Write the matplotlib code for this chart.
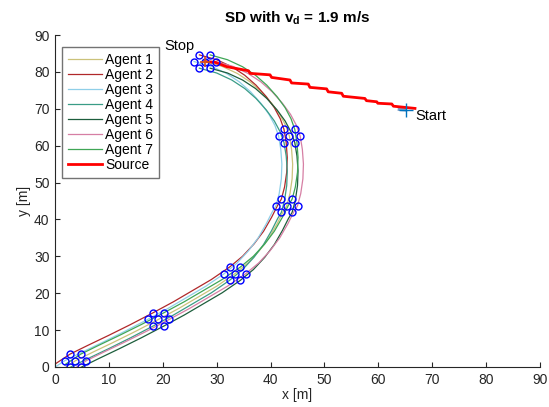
import numpy as np
import matplotlib
matplotlib.use('Agg')
import matplotlib.pyplot as plt

plt.rcParams['font.family'] = ['Liberation Sans', 'DejaVu Sans']
plt.rcParams['mathtext.fontset'] = 'custom'
plt.rcParams['mathtext.rm'] = 'Liberation Sans'
plt.rcParams['mathtext.bf'] = 'Liberation Sans:bold'

# formation centre track
center_x = [0.8, 3.8, 7.0, 11.0, 15.0, 19.2, 23.0, 26.5, 30.0, 33.4, 35.8, 37.9,
            39.7, 41.2, 42.3, 43.0, 43.6, 44.0, 44.1, 43.9, 43.5, 42.8, 41.7,
            40.2, 38.3, 36.2, 33.8, 31.0, 27.8]
center_y = [-1.2, 1.7, 4.0, 6.8, 9.7, 12.9, 15.9, 18.9, 21.9, 25.3, 28.2, 31.5,
            35.0, 38.8, 42.0, 43.7, 47.0, 51.0, 55.0, 59.0, 62.6, 65.5, 68.5,
            71.5, 74.6, 77.3, 79.6, 81.5, 82.8]

# hexagon formation slots: TL, TR, ML, C, MR, BL, BR
slot_dx = [-1.0, 1.0, -2.0, 0.0, 2.0, -1.0, 1.0]
slot_dy = [1.8, 1.8, 0.0, 0.0, 0.0, -1.8, -1.8]

agent_names = ['Agent 1', 'Agent 2', 'Agent 3', 'Agent 4', 'Agent 5', 'Agent 6', 'Agent 7']
agent_slot = [3, 0, 2, 5, 6, 4, 1]
agent_colors = ['#cbc27a', '#b0282a', '#8fcfe8', '#3a9c86', '#1d5e3c', '#d67fa4', '#3fa656']

# snapshot instants where the formation is drawn
snap_x = [3.8, 19.2, 33.4, 43.0, 43.5, 27.8]
snap_y = [1.7, 12.9, 25.3, 43.7, 62.6, 82.8]

# source trajectory (start -> stop)
src_x = [66.8, 62.8, 62.5, 59.9, 59.7, 57.8, 57.5, 53.5, 53.2, 50.7, 50.4, 47.3,
         47.0, 43.9, 43.6, 40.2, 39.9, 36.2, 35.9, 31.9, 29.7, 27.8]
src_y = [70.1, 70.7, 71.3, 71.5, 71.9, 72.2, 72.8, 73.4, 74.2, 74.6, 75.4, 75.8,
         76.7, 77.0, 77.8, 78.5, 79.2, 79.6, 80.3, 81.4, 82.6, 82.8]
start_pt = (65.1, 69.6)
stop_pt = (27.8, 82.8)

fig = plt.figure(figsize=(5.49, 4.07), dpi=100)
ax = fig.add_axes([0.1002, 0.0983, 0.8834, 0.8157])

cx = np.array(center_x)
cy = np.array(center_y)
for name, s, col in zip(agent_names, agent_slot, agent_colors):
    ax.plot(cx + slot_dx[s], cy + slot_dy[s], color=col, lw=0.9, label=name)

ax.plot([63.6, 65.3], [70.0, 69.8], color='#7f9fc8', lw=3, solid_capstyle='butt')
ax.plot(src_x, src_y, color='red', lw=2.0, label='Source')

for px, py in zip(snap_x, snap_y):
    ax.plot(np.array(slot_dx) + px, np.array(slot_dy) + py, 'o', ls='none',
            mfc='none', mec='blue', ms=5, mew=1.0)

ax.plot(*start_pt, '+', color='#0072BD', ms=10, mew=1.0)
ax.plot(*stop_pt, '+', color='#D95319', ms=7, mew=1.2)
ax.text(66.8, 68.0, 'Start', fontsize=10.5, ha='left', va='center')
ax.text(20.2, 87.0, 'Stop', fontsize=10.5, ha='left', va='center')

ax.set_xlim(0, 90)
ax.set_ylim(0, 90)
ax.set_xticks(range(0, 91, 10))
ax.set_yticks(range(0, 91, 10))
ax.spines['top'].set_visible(False)
ax.spines['right'].set_visible(False)
for sp in ['left', 'bottom']:
    ax.spines[sp].set_color('0.15')
ax.tick_params(direction='in', length=3.5, colors='0.15', labelsize=10, pad=4)
ax.set_xlabel('x [m]', fontsize=10, color='0.15', labelpad=1)
ax.set_ylabel('y [m]', fontsize=10, color='0.15', labelpad=2)
ax.set_title(r'SD with v$_\mathbf{d}$ = 1.9 m/s', fontsize=11, fontweight='bold', pad=9)

leg = ax.legend(loc='upper left', bbox_to_anchor=(0.0144, 0.964), borderaxespad=0,
                fontsize=10, fancybox=False, framealpha=1, edgecolor='0.45',
                handlelength=2.4, handletextpad=0.25, labelspacing=0.07,
                borderpad=0.45)
leg.get_frame().set_linewidth(1.0)

fig.savefig('out.png', dpi=100)
